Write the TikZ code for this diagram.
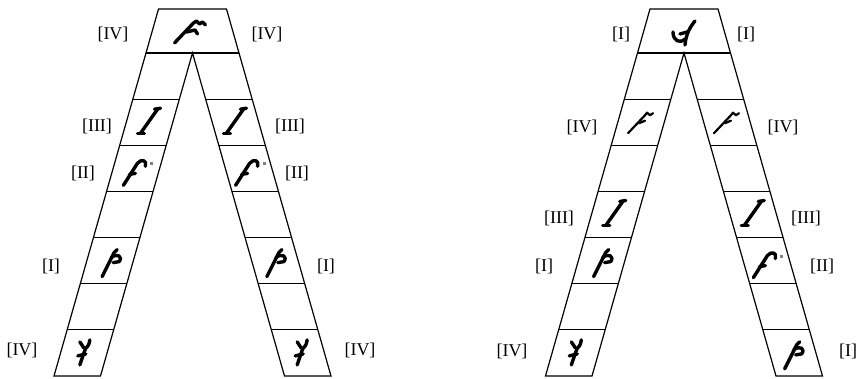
\documentclass[tikz,border=0pt]{standalone}
\usepackage{fontspec}
\setmainfont{Liberation Serif}
\usetikzlibrary{positioning}

\begin{document}
\begin{tikzpicture}[
  x=1pt, y=-1pt,
  every node/.style={font=\fontsize{18}{20}\selectfont, inner sep=0pt},
  rail/.style={line width=1.2pt, line join=miter},
  glyph/.style={line width=3.4pt, line cap=round, line join=round},
  thinglyph/.style={line width=2.2pt, line cap=round, line join=round}
]
\useasboundingbox (0,0) rectangle (863,379);

% ladder: #1 = x of the apex
\def\ladder#1{%
  \draw[rail] ({#1-46.5},53) -- ({#1-34},9) -- ({#1+34},9) -- ({#1+46.5},53);
  \draw[line width=2.4pt] ({#1-46.5},53) -- ({#1+46.5},53);
  \draw[rail] ({#1-46.5},53) -- ({#1-138.5},376) -- ({#1-92},376) -- (#1,53)
    -- ({#1+92},376) -- ({#1+138.5},376) -- ({#1+46.5},53);
  \foreach \k in {1,...,6} {
    \draw[rail] ({#1-46.5-13.14*\k},{53+46.14*\k}) -- ({#1-13.14*\k},{53+46.14*\k});
    \draw[rail] ({#1+13.14*\k},{53+46.14*\k}) -- ({#1+46.5+13.14*\k},{53+46.14*\k});
  }
}
% sign in a cell: (apex x, side -1/1, row, sign)
\def\cell#1#2#3#4{%
  \begin{scope}[shift={({#1+#2*(23.25+13.14*(#3-0.5))},{53+46.14*(#3-0.5)})}]
    #4
  \end{scope}
}
% signs
\def\gF{%
  \draw[glyph] (-18,12) -- (1,-8) -- (4,-10) -- (7,-7) -- (10,-9) -- (13,-6);
  \draw[glyph] (-6,1) -- (2.5,-1) -- (5,3);
}
\def\gI{%
  \draw[glyph] (-9,11) -- (8,-13);
  \draw[glyph] (-12,11) -- (-5,11);
  \draw[glyph] (5,-13) -- (11,-14);
}
\def\gC{%
  \draw[glyph] (-13,17) -- (1,-5) .. controls (5,-10) and (11,-8) .. (9,-2);
  \draw[glyph] (-7,6) -- (-1,5);
  \fill[gray] (14,-6) rectangle (17,-3);
}
\def\gP{%
  \draw[glyph] (-8,16) -- (4,-8) -- (7,-11);
  \draw[glyph] (1,-3) .. controls (7,-8) and (13,-4) .. (9,1) -- (3,2);
}
\def\gY{%
  \draw[glyph] (-4,-11) -- (0,-5);
  \draw[glyph] (6,-13) .. controls (5,-8) .. (1.5,-4) -- (-4,12);
  \draw[glyph] (-6,3) -- (2,1);
}
\def\gS{%
  \draw[glyph] (11,-10) .. controls (6,-4) and (2,3) .. (1,14);
  \draw[glyph] (-11,1) .. controls (-11,10) and (-4,13) .. (1,8);
  \draw[glyph] (-4,3) -- (3,1);
}
\def\gG{%
  \draw[thinglyph] (-13,11) -- (4,-7) -- (6,-9.5) -- (9,-7) -- (12,-9);
  \draw[thinglyph] (-2,1) -- (4,-1.5);
}

% left ladder
\ladder{192.5}
\begin{scope}[shift={(192.5,31)}] \gF \end{scope}
\cell{192.5}{-1}{2}{\gI} \cell{192.5}{1}{2}{\gI}
\cell{192.5}{-1}{3}{\gC} \cell{192.5}{1}{3}{\gC}
\cell{192.5}{-1}{5}{\gP} \cell{192.5}{1}{5}{\gP}
\cell{192.5}{-1}{7}{\gY} \cell{192.5}{1}{7}{\gY}

\node (a-top-l) at (113,34) {[IV]};
\node (a-top-r) at (267,34) {[IV]};
\node (a-2-l) at (97,126) {[III]};
\node (a-2-r) at (290,126) {[III]};
\node (a-3-l) at (83,173) {[II]};
\node (a-3-r) at (297,173) {[II]};
\node (a-5-l) at (51,266) {[I]};
\node (a-5-r) at (326,266) {[I]};
\node (a-7-l) at (22,350) {[IV]};
\node (a-7-r) at (360,350) {[IV]};

% right ladder
\ladder{684}
\begin{scope}[shift={(684,31)}] \gS \end{scope}
\cell{684}{-1}{2}{\gG} \cell{684}{1}{2}{\gG}
\cell{684}{-1}{4}{\gI} \cell{684}{1}{4}{\gI}
\cell{684}{-1}{5}{\gP} \cell{684}{1}{5}{\gC}
\cell{684}{-1}{7}{\gY} \cell{684}{1}{7}{\gP}

\node (b-top-l) at (621,34) {[I]};
\node (b-top-r) at (746,34) {[I]};
\node (b-2-l) at (582,127) {[IV]};
\node (b-2-r) at (783,127) {[IV]};
\node (b-4-l) at (559,218) {[III]};
\node (b-4-r) at (806,218) {[III]};
\node (b-5-l) at (544,266) {[I]};
\node (b-5-r) at (822,266) {[II]};
\node (b-7-l) at (512,351) {[IV]};
\node (b-7-r) at (848,351) {[I]};
\end{tikzpicture}
\end{document}
